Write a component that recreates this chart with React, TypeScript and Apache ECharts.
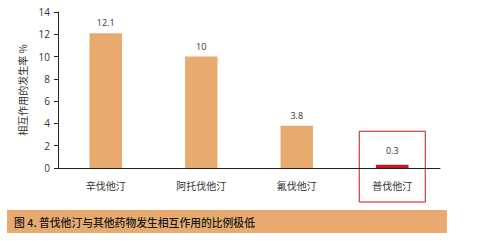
import React, { useEffect, useRef } from "react";
import * as echarts from "echarts";

const categories = ["辛伐他汀", "阿托伐他汀", "氟伐他汀", "普伐他汀"];
const values = [12.1, 10, 3.8, 0.3];
const valueLabels = ["12.1", "10", "3.8", "0.3"];
const yTicks = [0, 2, 4, 6, 8, 10, 12, 14];
const yAxisName = "相互作用的发生率 %";
const caption = "图 4. 普伐他汀与其他药物发生相互作用的比例极低";

const ORANGE = "#e8aa6f";
const RED = "#c3161f";

export default function App() {
  const ref = useRef<HTMLDivElement>(null);
  useEffect(() => {
    const chart = echarts.init(ref.current!, undefined, { renderer: "svg" });
    const option: any = {
      animation: false,
      grid: { left: 58, right: 38, top: 12, bottom: 73, containLabel: false },
      xAxis: {
        type: "category",
        data: categories,
        axisLine: { lineStyle: { color: "#222", width: 1 } },
        axisTick: { inside: true, length: 4, alignWithLabel: false, lineStyle: { color: "#222" } },
        axisLabel: { color: "#333", fontSize: 10, margin: 12, fontFamily: "Noto Sans CJK SC" },
        splitLine: { show: false },
      },
      yAxis: {
        type: "value",
        min: yTicks[0],
        max: yTicks[yTicks.length - 1],
        interval: 2,
        name: yAxisName,
        nameLocation: "middle",
        nameGap: 30,
        nameRotate: 90,
        nameTextStyle: { color: "#333", fontSize: 10, fontFamily: "Noto Sans CJK SC" },
        axisLine: { show: true, lineStyle: { color: "#222" } },
        axisTick: { show: true, length: 4, lineStyle: { color: "#222" } },
        axisLabel: { color: "#333", fontSize: 10, margin: 8, fontFamily: "Open Sans" },
        splitLine: { show: false },
      },
      series: [
        {
          type: "bar",
          barWidth: "34%",
          data: values.map((v, i) => ({
            value: v,
            itemStyle: { color: i === 3 ? RED : ORANGE },
            label: {
              show: true,
              position: "top",
              distance: i === 3 ? 10 : 6,
              formatter: valueLabels[i],
              color: "#333",
              fontSize: 9,
              fontFamily: "Open Sans",
            },
          })),
        },
      ],
    };
    chart.setOption(option);
    const c = chart.convertToPixel({ xAxisIndex: 0 }, categories[3]) as number;
    const yTop = chart.convertToPixel({ yAxisIndex: 0 }, 3.3) as number;
    chart.setOption({
      graphic: [
        {
          type: "rect",
          shape: { x: c - 33, y: yTop, width: 66, height: 202 - yTop },
          style: { fill: "none", stroke: RED, lineWidth: 1 },
          silent: true,
        },
        {
          type: "rect",
          shape: { x: 7, y: 210, width: 440, height: 23 },
          style: { fill: ORANGE },
          silent: true,
        },
        {
          type: "text",
          x: 14,
          y: 221.5,
          style: {
            text: caption,
            fill: "#1a1a1a",
            font: "500 10.8px 'Noto Sans CJK SC'",
            verticalAlign: "middle",
          },
          silent: true,
        },
      ],
    });
    return () => chart.dispose();
  }, []);
  return (
    <div
      ref={ref}
      style={{ position: "fixed", left: 0, top: 0, width: 478, height: 241, background: "#fff" }}
    />
  );
}
